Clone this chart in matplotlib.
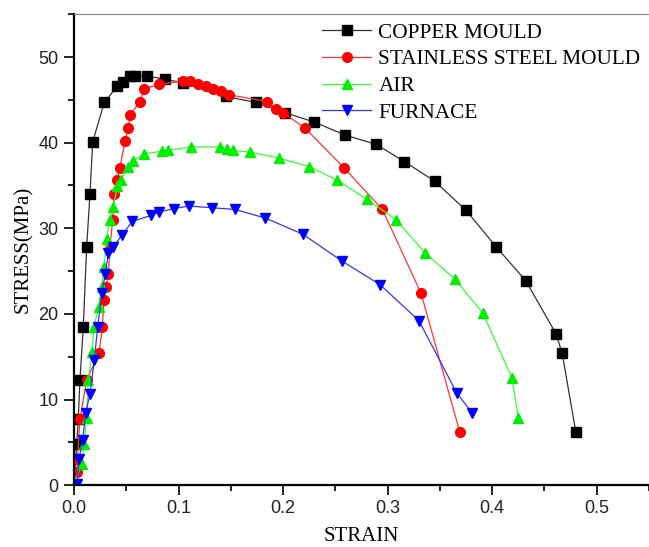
import matplotlib

matplotlib.use("Agg")
import matplotlib.pyplot as plt
from matplotlib.ticker import MultipleLocator

# ----------------- DATA -----------------
copper_strain = [0, 0.0026, 0.0041, 0.0057, 0.0089, 0.0121, 0.0153, 0.0179, 0.029, 0.0414,
                 0.0466, 0.0536, 0.058, 0.0695, 0.087, 0.104, 0.145, 0.174, 0.202, 0.230,
                 0.259, 0.289, 0.316, 0.345, 0.375, 0.404, 0.432, 0.461, 0.467, 0.480]
copper_stress = [0, 4.8, 7.7, 12.3, 18.5, 27.8, 34.0, 40.1, 44.7, 46.6,
                 47.1, 47.8, 47.8, 47.8, 47.4, 47.0, 45.4, 44.7, 43.5, 42.4,
                 40.9, 39.8, 37.8, 35.5, 32.1, 27.8, 23.9, 17.7, 15.4, 6.2]

steel_strain = [0.0032, 0.0032, 0.0057, 0.0121, 0.0239, 0.0271, 0.0287, 0.0306, 0.0329, 0.0344,
                0.037, 0.0383, 0.0408, 0.044, 0.0488, 0.052, 0.0536, 0.063, 0.0673, 0.0813,
                0.104, 0.111, 0.119, 0.126, 0.133, 0.141, 0.148, 0.185, 0.193, 0.200,
                0.221, 0.258, 0.295, 0.332, 0.369]
steel_stress = [1.5, 3.0, 7.7, 12.3, 15.4, 18.5, 21.6, 23.2, 24.7, 27.8,
                31.0, 34.0, 35.6, 37.1, 40.2, 41.7, 43.2, 44.8, 46.3, 46.8,
                47.2, 47.2, 46.8, 46.6, 46.3, 46.0, 45.6, 44.8, 43.9, 43.5,
                41.7, 37.1, 32.2, 22.4, 6.2]

air_strain = [0, 0.0073, 0.0096, 0.0121, 0.0137, 0.0175, 0.0191, 0.0236, 0.0265, 0.0287,
              0.0313, 0.0344, 0.0376, 0.0414, 0.0447, 0.0514, 0.0568, 0.0673, 0.0845, 0.0902,
              0.112, 0.140, 0.146, 0.152, 0.168, 0.196, 0.225, 0.252, 0.280, 0.308,
              0.336, 0.364, 0.391, 0.419, 0.425]
air_stress = [0, 2.5, 4.8, 7.8, 12.3, 15.6, 18.5, 20.8, 23.2, 25.5,
              28.7, 31.0, 32.5, 34.9, 35.6, 37.2, 37.9, 38.7, 39.0, 39.1,
              39.5, 39.5, 39.3, 39.1, 38.9, 38.2, 37.2, 35.6, 33.4, 31.0,
              27.1, 24.1, 20.1, 12.5, 7.9]

furnace_strain = [0.003, 0.0048, 0.0083, 0.0112, 0.0153, 0.0194, 0.0227, 0.0265, 0.030, 0.0329,
                  0.0376, 0.0456, 0.0558, 0.0737, 0.081, 0.0957, 0.110, 0.132, 0.154, 0.183,
                  0.219, 0.256, 0.293, 0.330, 0.366, 0.381]
furnace_stress = [0.1, 3.0, 5.3, 8.4, 10.7, 14.6, 18.5, 22.4, 24.7, 27.1,
                  27.8, 29.2, 30.8, 31.5, 31.9, 32.3, 32.6, 32.4, 32.2, 31.2,
                  29.3, 26.2, 23.4, 19.2, 10.8, 8.4]

labels = ["COPPER MOULD", "STAINLESS STEEL MOULD", "AIR", "FURNACE"]
# ----------------------------------------

SERIF = "Liberation Serif"
SANS = "Liberation Sans"

fig = plt.figure(figsize=(6.49, 5.47), dpi=100)
ax = fig.add_axes([0.114, 0.113, 0.886, 0.861])

series = [
    (copper_strain, copper_stress, "s", "#000000", "#333333"),
    (steel_strain, steel_stress, "o", "#ff0000", "#ff3333"),
    (air_strain, air_stress, "^", "#00ee00", "#33ff33"),
    (furnace_strain, furnace_stress, "v", "#0000ff", "#3333ff"),
]
for (xs, ys, mk, mc, lc), lab in zip(series, labels):
    ax.plot(xs, ys, color=lc, linewidth=0.9, marker=mk, markersize=7,
            markerfacecolor=mc, markeredgecolor=mc, label=lab)

ax.set_xlim(0, 0.55)
ax.set_ylim(0, 55)
ax.xaxis.set_major_locator(MultipleLocator(0.1))
ax.xaxis.set_minor_locator(MultipleLocator(0.05))
ax.yaxis.set_major_locator(MultipleLocator(10))
ax.yaxis.set_minor_locator(MultipleLocator(5))
ax.xaxis.set_major_formatter(plt.FuncFormatter(lambda v, p: f"{v:.1f}"))

ax.tick_params(which="major", direction="out", length=7, width=1.2, labelsize=13, pad=4)
ax.tick_params(which="minor", direction="out", length=4, width=1.2)
ax.tick_params(top=False, right=False)
for lbl in ax.get_xticklabels() + ax.get_yticklabels():
    lbl.set_fontfamily(SANS)
    lbl.set_color("#222222")

ax.spines["left"].set_linewidth(1.6)
ax.spines["bottom"].set_linewidth(1.6)
ax.spines["top"].set_color("#888888")
ax.spines["top"].set_linewidth(0.9)
ax.spines["right"].set_visible(False)

ax.set_xlabel("STRAIN", fontfamily=SERIF, fontsize=15, labelpad=7)
ax.set_ylabel("STRESS(MPa)", fontfamily=SERIF, fontsize=15, labelpad=4)

ax.legend(loc="upper right", bbox_to_anchor=(1.0, 1.0), frameon=False,
          prop={"family": SERIF, "size": 15.3}, handlelength=2.3,
          handletextpad=0.35, labelspacing=0.32, borderaxespad=0.0)

fig.savefig("out.png", dpi=100)
